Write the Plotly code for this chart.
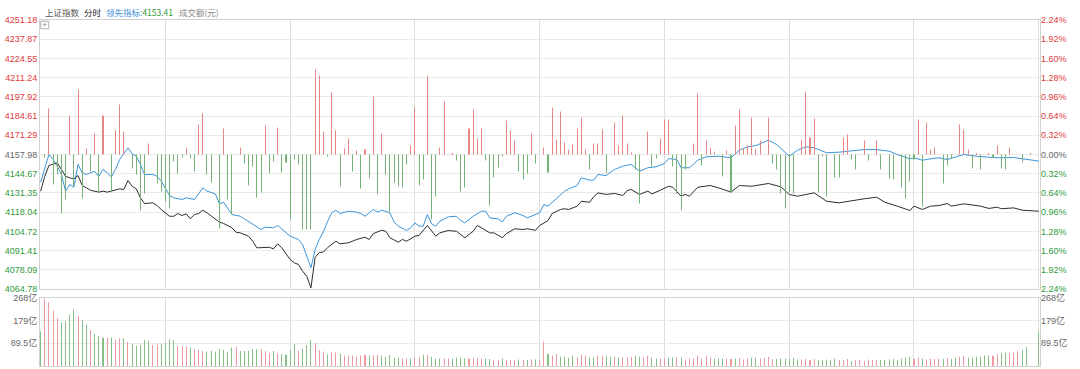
import plotly.graph_objects as go

# ---------------- data ----------------
PREV_CLOSE = 4157.98

price_ticks = [4064.78, 4078.09, 4091.41, 4104.72, 4118.04, 4131.35, 4144.67, 4157.98,
               4171.29, 4184.61, 4197.92, 4211.24, 4224.55, 4237.87, 4251.18]
pct_labels = ["2.24%", "1.92%", "1.60%", "1.28%", "0.96%", "0.64%", "0.32%", "0.00%",
              "0.32%", "0.64%", "0.96%", "1.28%", "1.60%", "1.92%", "2.24%"]
vol_ticks = [89.5, 179, 268.5]
vol_labels = ["89.5亿", "179亿", "268亿"]
time_grid = [0, 30, 60, 90, 120, 150, 180, 210, 240]

# 上证指数 (black line): minute index -> price
price_t = [0, 1, 2, 3, 4, 5, 6, 7, 8, 9, 10, 11, 12, 14, 15, 16, 17, 19, 20, 21, 22, 23, 24, 25, 27, 28,
           29, 31, 32, 33, 34, 35, 36, 37, 38, 39, 40, 42, 43, 44, 46, 47, 48, 50, 51, 52, 54, 55, 56, 57,
           58, 60, 61, 62, 63, 64, 65, 66, 67, 68, 69, 70, 71, 72, 74, 76, 78, 79, 80, 82, 83, 84, 86, 87,
           88, 90, 91, 93, 94, 95, 96, 98, 100, 101, 102, 104, 105, 106, 108, 109, 111, 112, 114, 116, 117,
           119, 120, 122, 123, 125, 126, 127, 129, 130, 132, 133, 134, 136, 138, 140, 141, 142, 144, 146,
           147, 149, 151, 152, 154, 155, 156, 158, 161, 163, 166, 168, 171, 175, 178, 180, 182, 186, 189,
           192, 195, 198, 201, 203, 206, 209, 210, 212, 214, 216, 218, 219, 222, 226, 228, 230, 231, 234,
           236, 239, 240]
price_v = [4132.6, 4142.9, 4150.4, 4151.5, 4152.2, 4147.6, 4142.9, 4141.8, 4141.1, 4143.4, 4136.5, 4134.9,
           4133.2, 4131.9, 4132.6, 4131.9, 4132.6, 4134.2, 4133.7, 4140.0, 4136.0, 4134.2, 4128.0, 4124.0,
           4124.5, 4122.6, 4119.9, 4115.2, 4115.2, 4117.1, 4115.7, 4116.9, 4113.4, 4116.4, 4117.1, 4119.4,
           4117.6, 4113.4, 4111.1, 4110.2, 4107.2, 4104.1, 4103.7, 4101.4, 4097.9, 4093.3, 4093.7, 4093.7,
           4092.6, 4096.1, 4093.3, 4085.2, 4082.9, 4081.8, 4077.1, 4073.6, 4065.6, 4086.6, 4090.1, 4090.4,
           4093.5, 4095.6, 4097.9, 4096.1, 4096.8, 4099.1, 4100.7, 4099.1, 4103.2, 4105.5, 4104.8, 4100.3,
           4097.2, 4099.1, 4097.9, 4101.4, 4101.9, 4108.8, 4104.8, 4101.4, 4103.7, 4105.3, 4104.8, 4102.5,
           4100.3, 4104.8, 4108.8, 4107.2, 4103.7, 4103.7, 4100.3, 4103.2, 4106.5, 4106.0, 4106.5, 4105.5,
           4108.8, 4112.2, 4117.1, 4119.9, 4120.4, 4119.9, 4122.2, 4125.6, 4124.9, 4128.7, 4131.4, 4130.3,
           4131.0, 4129.6, 4133.0, 4133.7, 4130.3, 4132.6, 4130.7, 4133.2, 4136.0, 4135.3, 4129.1, 4130.3,
           4129.1, 4135.3, 4136.5, 4134.9, 4131.9, 4136.5, 4136.0, 4137.9, 4135.6, 4130.3, 4129.1, 4131.4,
           4125.6, 4124.5, 4126.1, 4127.3, 4128.4, 4124.9, 4122.2, 4119.2, 4122.2, 4119.9, 4122.2, 4122.6,
           4124.0, 4122.2, 4123.8, 4122.2, 4120.6, 4121.5, 4120.4, 4121.0, 4119.4, 4118.7, 4118.7]

# 领先指标 (blue line)
lead_t = [0, 1, 2, 3, 4, 5, 6, 7, 8, 9, 10, 11, 13, 14, 15, 16, 17, 18, 19, 21, 22, 23, 24, 25, 27, 28, 29,
          31, 32, 34, 35, 37, 39, 40, 42, 43, 44, 46, 48, 49, 51, 53, 54, 56, 57, 58, 60, 62, 63, 65, 66,
          67, 68, 69, 70, 71, 72, 74, 76, 77, 78, 80, 81, 82, 84, 85, 86, 88, 89, 90, 91, 92, 93, 94, 95,
          96, 98, 100, 101, 102, 104, 106, 107, 108, 110, 111, 112, 114, 116, 117, 119, 120, 121, 122, 124,
          126, 127, 129, 130, 132, 133, 134, 136, 138, 140, 142, 144, 146, 148, 150, 151, 153, 154, 156,
          158, 160, 163, 166, 168, 170, 172, 175, 177, 179, 180, 182, 184, 186, 189, 192, 195, 198, 201,
          204, 206, 209, 210, 212, 214, 216, 218, 222, 225, 228, 230, 234, 237, 240]
lead_v = [4138.8, 4147.6, 4158.0, 4154.5, 4149.9, 4144.1, 4132.6, 4137.2, 4135.3, 4151.1, 4145.3, 4144.1,
          4146.4, 4142.9, 4147.6, 4145.3, 4142.5, 4147.6, 4154.5, 4162.6, 4158.5, 4156.8, 4151.1, 4144.1,
          4144.1, 4142.9, 4139.5, 4129.6, 4128.0, 4126.8, 4128.0, 4126.8, 4134.9, 4132.6, 4130.7, 4123.8,
          4124.9, 4116.4, 4115.2, 4113.4, 4109.5, 4106.0, 4107.6, 4107.2, 4108.8, 4106.5, 4101.4, 4099.1,
          4095.6, 4079.5, 4092.1, 4099.1, 4104.6, 4111.6, 4117.6, 4119.4, 4117.1, 4118.7, 4118.0, 4117.1,
          4115.2, 4119.9, 4118.0, 4119.4, 4117.6, 4111.1, 4108.3, 4105.3, 4107.2, 4110.6, 4108.3, 4108.3,
          4116.4, 4110.0, 4108.3, 4111.8, 4114.8, 4115.2, 4112.2, 4110.6, 4115.2, 4118.7, 4118.7, 4114.1,
          4113.4, 4111.3, 4115.2, 4117.6, 4115.7, 4114.1, 4116.4, 4117.6, 4123.3, 4122.2, 4127.3, 4132.6,
          4134.2, 4136.5, 4141.8, 4140.2, 4140.2, 4144.1, 4143.4, 4147.6, 4149.9, 4151.1, 4146.4, 4148.8,
          4149.5, 4151.7, 4155.2, 4154.5, 4148.8, 4148.8, 4154.0, 4156.4, 4156.8, 4155.7, 4161.0, 4163.3,
          4164.2, 4167.9, 4164.9, 4159.6, 4156.8, 4161.0, 4163.3, 4162.6, 4159.2, 4159.6, 4160.3, 4161.4,
          4161.4, 4160.3, 4158.0, 4155.0, 4155.7, 4154.0, 4155.0, 4155.7, 4154.5, 4158.0, 4156.8, 4156.4,
          4155.7, 4155.9, 4154.9, 4153.41]

# strength bars in the main panel (minute index, signed value; red up / green down)
flow_t = [1, 2, 3, 4, 5, 6, 7, 8, 9, 10, 11, 12, 13, 14, 15, 17, 18, 19, 20, 22, 23, 24, 25, 26, 28, 29, 30,
          31, 32, 33, 34, 35, 36, 37, 38, 39, 40, 41, 43, 44, 45, 46, 48, 49, 50, 51, 52, 53, 54, 55, 56,
          57, 58, 59, 60, 61, 62, 63, 64, 65, 66, 67, 68, 69, 70, 71, 72, 73, 74, 75, 76, 77, 78, 79, 80,
          81, 82, 83, 84, 85, 86, 87, 88, 89, 90, 91, 92, 93, 94, 95, 96, 97, 99, 100, 101, 102, 103, 104,
          105, 106, 107, 108, 109, 110, 111, 112, 113, 114, 115, 116, 117, 118, 119, 121, 122, 123, 124,
          125, 126, 127, 128, 129, 130, 131, 132, 133, 134, 135, 136, 138, 139, 140, 141, 142, 143, 144,
          146, 147, 148, 149, 150, 151, 152, 153, 154, 155, 157, 158, 159, 160, 161, 162, 164, 165, 166,
          167, 168, 169, 170, 171, 172, 173, 175, 176, 177, 178, 179, 180, 181, 183, 184, 185, 186, 187,
          188, 189, 191, 192, 193, 194, 195, 196, 198, 199, 201, 202, 204, 205, 207, 208, 209, 210, 211,
          212, 213, 214, 215, 217, 218, 219, 221, 222, 223, 224, 225, 226, 228, 229, 230, 231, 232, 233,
          236, 238]
flow_v = [-3, 46, -30, -20, -59, -45, 39, -32, 65, -44, 6, -17, 21, -37, 39, -38, 24, 50, 23, -14, -20, -56,
          -39, 11, -29, -37, -47, -54, -7, -19, -3, 7, -4, -17, 30, 41, -20, -28, -74, 26, -45, -60, 7, -9,
          -31, -12, -43, -38, 29, -19, -7, 27, -18, -8, -65, -5, -10, -75, -75, -75, 85, 79, 23, -2, 62,
          24, -32, 6, 16, -17, 4, -34, 5, -24, 58, -40, 21, -20, -59, -28, -32, -33, -10, 9, 47, -31, -25,
          79, -65, -42, 7, 53, 1, -6, -37, -33, 26, 45, 16, 26, -6, -51, -23, -13, -2, 34, 24, 14, -17,
          -25, -19, 21, -9, 7, -18, 47, 15, 43, 12, 5, 10, 26, 37, 5, -15, 11, 11, 25, -19, 32, 9, 39, 11,
          2, -15, -49, 23, -12, -4, 16, 35, 35, -12, -39, -56, -15, 11, 61, -11, 14, 7, 3, -22, 4, -37, 29,
          45, 6, 9, 37, 5, 14, 37, -9, -15, -39, -54, -38, -39, 15, 63, 17, 36, -38, -2, -42, -23, -23, 17,
          20, -5, -15, 14, -6, 14, -15, -24, -25, -33, -44, -27, -5, 35, -52, 32, 5, 7, -29, -11, -4, 30,
          25, 5, -14, 1, -15, 1, -3, 9, -14, -15, 7, -8, 1]

# 成交额 (亿元) per minute, 0..240
volume = [136, 268, 251, 219, 189, 172, 176, 202, 224, 198, 182, 162, 143, 127, 119, 112, 112, 113, 103, 110,
          110, 94, 87, 79, 83, 103, 100, 83, 87, 87, 92, 106, 103, 79, 77, 77, 73, 67, 63, 59,
          57, 59, 57, 67, 63, 54, 73, 77, 59, 59, 59, 66, 66, 66, 59, 50, 59, 50, 46, 44,
          64,
          87, 59, 67, 83, 103, 92, 63, 57, 46, 53, 53, 48, 41, 41, 41, 37, 41, 44, 41, 41,
          44, 41, 37, 44, 33, 34, 30, 30, 30, 33, 33, 44, 44, 37, 30, 30, 30, 30, 30, 33,
          33, 30, 30, 30, 33, 30, 30, 28, 24, 24, 30, 24, 24, 24, 26, 24, 24, 26, 26, 24,
          96, 48, 41, 46, 37, 37, 33, 40, 34, 44, 41, 34, 34, 40, 40, 40, 37, 37, 34, 34,
          34, 37, 40, 37, 34, 40, 33, 30, 30, 30, 33, 34, 34, 34, 26, 30, 30, 40, 30, 40,
          33, 30, 30, 30, 30, 28, 30, 33, 26, 30, 33, 33, 30, 33, 37, 28, 28, 30, 30, 28,
          33, 26, 26, 28, 24, 28, 24, 24, 26, 24, 30, 24, 24, 28, 20, 24, 24, 21, 26, 24,
          24, 24, 24, 26, 28, 24, 30, 33, 37, 28, 33, 30, 26, 28, 28, 30, 28, 33, 28, 33,
          37, 40, 33, 33, 37, 37, 41, 41, 40, 46, 50, 53, 50, 53, 57, 63, 74, 0, 0, 136]
# r = up minute, g = down minute
volume_dir = ("grrrrggggr" "ggrgggrgrr" "grgggggrrg" "gggrrrgrrr" "gggggggrgg" "gggrrrgrgg"
              "g"
              "grgggrrrgr" "rgrrrrrrgr" "rgggggrrgr" "rgrgggrrgg" "ggrrrrggrr" "grrrgrgrgr"
              "rgrrggggrr" "rggrrggrgr" "rrggrrggrr" "ggrgrrrrrr" "rgggrrgrrr" "ggrrrrgggg"
              "ggrrrrgggg" "grrrgrrrrr" "rggggggggr" "rgrrrrgrgg" "rrggggggrr" "ggrrrggggg")

# ---------------- styling ----------------
RED = "#df3b3b"
GREEN = "#2f9a3c"
GRAY = "#666666"
BAR_RED = "#ea8585"
BAR_GREEN = "#76b476"
VOL_RED = "#ee98a0"
VOL_GREEN = "#86c086"
FONT = "Arial, 'Liberation Sans', 'Noto Sans CJK SC', sans-serif"
CJK = "'Noto Sans CJK SC', 'Microsoft YaHei', sans-serif"


def colored(text, color):
    return f'<span style="color:{color}">{text}</span>'


left_text = []
for v in price_ticks:
    c = RED if v > PREV_CLOSE + 0.001 else (GREEN if v < PREV_CLOSE - 0.001 else GRAY)
    left_text.append(colored(f"{v:.2f}", c))
pct_vals = [(v / PREV_CLOSE - 1) * 100 for v in price_ticks]
right_text = []
for v, lab in zip(price_ticks, pct_labels):
    c = RED if v > PREV_CLOSE + 0.001 else (GREEN if v < PREV_CLOSE - 0.001 else GRAY)
    right_text.append(colored(lab, c))

flow_colors = [BAR_RED if v > 0 else BAR_GREEN for v in flow_v]
vol_colors = [VOL_RED if d == "r" else VOL_GREEN for d in volume_dir]
minutes = list(range(len(volume)))

# very small nominal width: plotly expands thin bars to exactly one pixel column
BAR_W = 0.01

fig = go.Figure()
fig.add_trace(go.Bar(x=flow_t, y=flow_v, yaxis="y3", xaxis="x", width=BAR_W,
                     marker=dict(color=flow_colors, line=dict(width=0)), hoverinfo="skip"))
fig.add_trace(go.Scatter(x=lead_t, y=lead_v, mode="lines", line=dict(color="#3d94d9", width=1),
                         xaxis="x", yaxis="y", hoverinfo="skip"))
fig.add_trace(go.Scatter(x=price_t, y=price_v, mode="lines", line=dict(color="#2e2e2e", width=1),
                         xaxis="x", yaxis="y", hoverinfo="skip"))
fig.add_trace(go.Scatter(x=[0, 240], y=[0, 0], mode="lines", opacity=0, yaxis="y2", xaxis="x",
                         hoverinfo="skip"))
fig.add_trace(go.Bar(x=minutes, y=volume, xaxis="x2", yaxis="y4", width=BAR_W,
                     marker=dict(color=vol_colors, line=dict(width=0)), hoverinfo="skip"))
fig.add_trace(go.Scatter(x=[0, 240], y=[0, 0], mode="lines", opacity=0, xaxis="x2", yaxis="y5",
                         hoverinfo="skip"))

MAIN_DOM = [0.2225, 1.0]
VOL_DOM = [0.0, 0.1965]
xcommon = dict(range=[-0.15, 240.3], tickmode="array", tickvals=time_grid, showticklabels=False,
               showgrid=True, gridcolor="#dddddd", gridwidth=1, zeroline=False, showline=True,
               mirror=True, linecolor="#d2d2d2", linewidth=1, ticks="", fixedrange=True,
               automargin=False)
ycommon = dict(tickfont=dict(family=FONT, size=9, color=GRAY), zeroline=False, ticks="",
               fixedrange=True, automargin=False)

fig.update_layout(
    width=1080, height=369,
    margin=dict(l=40, r=40, t=20, b=3, autoexpand=False),
    paper_bgcolor="white", plot_bgcolor="white",
    showlegend=False, barmode="overlay",
    xaxis=dict(domain=[0, 1], anchor="y", **xcommon),
    xaxis2=dict(domain=[0, 1], anchor="y4", matches="x", **xcommon),
    yaxis=dict(domain=MAIN_DOM, range=[price_ticks[0], price_ticks[-1]], tickmode="array",
               tickvals=price_ticks, ticktext=left_text, showgrid=True, gridcolor="#eaeaea",
               showline=True, mirror=True, linecolor="#d2d2d2", **ycommon),
    yaxis2=dict(overlaying="y", side="right", anchor="x", range=[pct_vals[0], pct_vals[-1]],
                tickmode="array", tickvals=pct_vals, ticktext=right_text, showgrid=False,
                showline=False, **ycommon),
    yaxis3=dict(overlaying="y", range=[-134.5, 134.5], visible=False, fixedrange=True),
    yaxis4=dict(domain=VOL_DOM, anchor="x2", range=[0, 268.5], tickmode="array", tickvals=vol_ticks,
                ticktext=vol_labels, showgrid=True, gridcolor="#eaeaea", showline=True, mirror=True,
                linecolor="#d2d2d2", **ycommon),
    yaxis5=dict(overlaying="y4", side="right", anchor="x2", range=[0, 268.5], tickmode="array",
                tickvals=vol_ticks, ticktext=vol_labels, showgrid=False, showline=False, **ycommon),
)

# header texts
HEAD_Y = 1.0231
head = [
    (0.003, "上证指数", "#555555"),
    (0.042, "分时", "#222222"),
    (0.064, colored("领先指标:", "#3d8fd6") + colored("4153.41", "#2f9a3c"), None),
    (0.137, "成交额(元)", "#888888"),
]
for x, txt, col in head:
    fig.add_annotation(x=x, y=HEAD_Y, xref="paper", yref="paper", text=txt, showarrow=False,
                       xanchor="left", yanchor="middle",
                       font=dict(family=CJK, size=8.5, color=col or "#555555"))

# small "+" box at top-left of the main panel
fig.add_shape(type="rect", xref="paper", yref="paper", x0=0.0007, x1=0.0087, y0=0.9745, y1=0.9965,
              line=dict(color="#b0b0b0", width=1), fillcolor="white")
fig.add_annotation(x=0.0047, y=0.9855, xref="paper", yref="paper", text="+", showarrow=False,
                   font=dict(family=FONT, size=9, color="#888888"), xanchor="center", yanchor="middle")

fig.write_html("out.html")
